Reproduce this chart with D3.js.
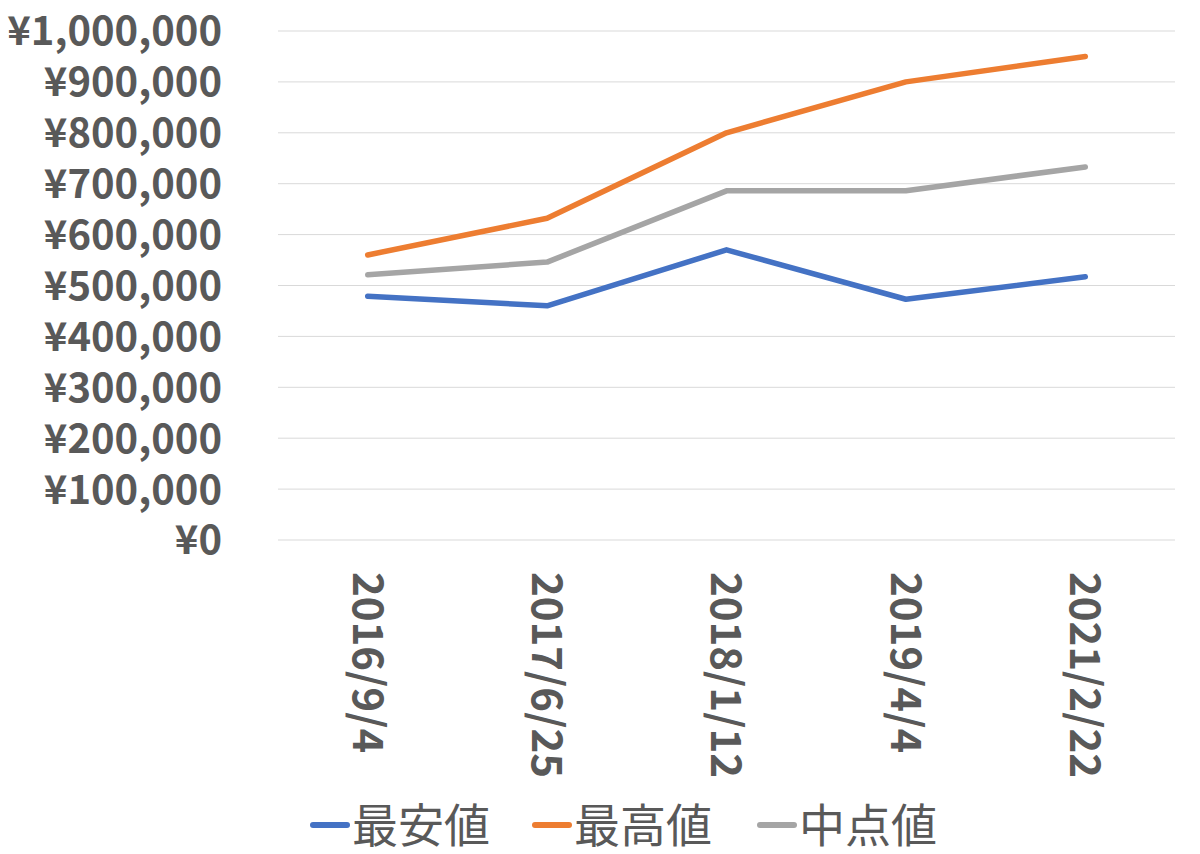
<!DOCTYPE html>
<html><head><meta charset="utf-8">
<script src="https://cdn.jsdelivr.net/npm/d3@7"></script>
<style>body{margin:0;background:#fff}</style></head>
<body><svg id="c" width="1200" height="854"></svg>
<script>
const categories = ["2016/9/4","2017/6/25","2018/1/12","2019/4/4","2021/2/22"];
const lowValues = [479000,460000,570000,473000,517000];
const highValues = [560000,632000,800000,900000,950000];
const midValues = [521000,546000,686000,686000,733000];
const yTicks = [0,100000,200000,300000,400000,500000,600000,700000,800000,900000,1000000];
const seriesNames = ["最安値","最高値","中点値"];
const colors = ["#4472C4","#ED7D31","#A5A5A5"];
const series = [lowValues, highValues, midValues];

const svg = d3.select("#c");
const font = "'Noto Sans CJK JP','Liberation Sans',sans-serif";
const x = d3.scaleBand().domain(categories).range([278,1175]);
const y = d3.scaleLinear().domain([0,1000000]).range([540,31]);
const fmt = v => "¥" + d3.format(",")(v);

svg.append("g").selectAll("line").data(yTicks).join("line")
  .attr("x1",278).attr("x2",1175).attr("y1",d=>y(d)).attr("y2",d=>y(d))
  .attr("stroke","#d9d9d9").attr("stroke-width",1);
svg.append("g").selectAll("text").data(yTicks).join("text")
  .attr("x",222).attr("y",d=>y(d)).attr("dy","0.36em").attr("text-anchor","end")
  .attr("font-family",font).attr("font-weight","bold").attr("font-size",40).attr("fill","#595959")
  .attr("textLength",d=>null)
  .text(fmt);
svg.append("g").selectAll("text").data(categories).join("text")
  .attr("transform",d=>`translate(${x(d)+x.bandwidth()/2},572) rotate(90)`)
  .attr("dy","0.36em").attr("text-anchor","start")
  .attr("font-family",font).attr("font-weight","bold").attr("font-size",42).attr("fill","#595959")
  .text(d=>d);

const line = d3.line().x((d,i)=>x(categories[i])+x.bandwidth()/2).y(d=>y(d));
series.forEach((s,i)=>{
  svg.append("path").attr("d",line(s)).attr("fill","none")
    .attr("stroke",colors[i]).attr("stroke-width",5.5).attr("stroke-linejoin","round").attr("stroke-linecap","round");
});

const lx = [313,535,760];
seriesNames.forEach((n,i)=>{
  svg.append("line").attr("x1",lx[i]).attr("x2",lx[i]+34).attr("y1",825).attr("y2",825)
    .attr("stroke",colors[i]).attr("stroke-width",6).attr("stroke-linecap","round");
  svg.append("text").attr("x",lx[i]+39).attr("y",825).attr("dy","0.36em")
    .attr("font-family",font).attr("font-size",46).attr("fill","#595959").text(n);
});
</script></body></html>
